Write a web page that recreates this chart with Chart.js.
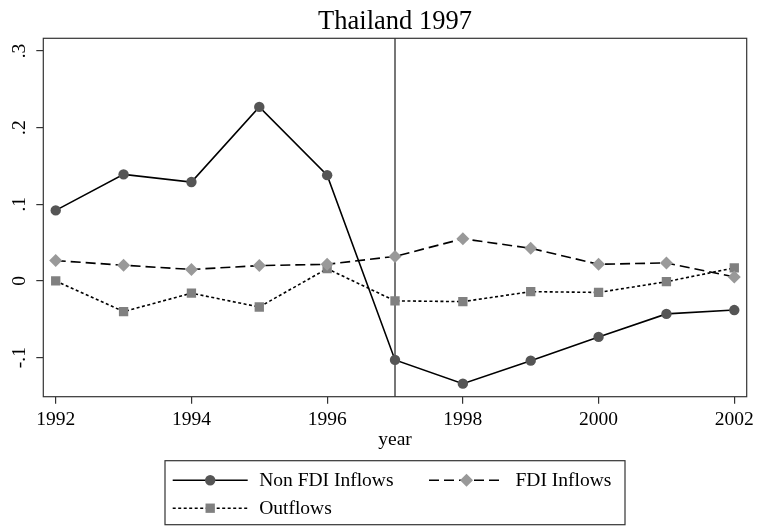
<!DOCTYPE html>
<html>
<head>
<meta charset="utf-8">
<script src="https://cdn.jsdelivr.net/npm/chart.js"></script>
<style>
  body { margin: 0; background: #fff; }
</style>
</head>
<body>
<canvas id="chart" width="759" height="526"></canvas>
<script>
// values
const years = [1992, 1993, 1994, 1995, 1996, 1997, 1998, 1999, 2000, 2001, 2002];
const nonFdiInflows = [0.092, 0.139, 0.129, 0.227, 0.138, -0.103, -0.134, -0.104, -0.073, -0.043, -0.038];
const fdiInflows = [0.0265, 0.0205, 0.015, 0.020, 0.0217, 0.032, 0.055, 0.0426, 0.0217, 0.0235, 0.0052];
const outflows = [0.000, -0.040, -0.016, -0.034, 0.016, -0.026, -0.027, -0.014, -0.015, -0.001, 0.017];
const xTicks = [1992, 1994, 1996, 1998, 2000, 2002];
const yTicks = [-0.1, 0, 0.1, 0.2, 0.3];
const crisisYear = 1997;
const titleText = "Thailand 1997";

const serif = "'Liberation Serif', 'Times New Roman', serif";

function points(values) {
  return values.map((v, i) => ({ x: years[i], y: v }));
}

function yLabel(v) {
  if (Math.abs(v) < 1e-9) return "0";
  return v.toFixed(1).replace("0.", ".");
}

// plot frame + vertical line at the crisis year
const framePlugin = {
  id: "frame",
  beforeDatasetsDraw(chart) {
    const ctx = chart.ctx;
    const a = chart.chartArea;
    const px = chart.scales.x.getPixelForValue(crisisYear);
    ctx.save();
    ctx.strokeStyle = "#555";
    ctx.lineWidth = 1.6;
    ctx.beginPath();
    ctx.moveTo(px, a.top);
    ctx.lineTo(px, a.bottom);
    ctx.stroke();
    ctx.strokeStyle = "#333";
    ctx.lineWidth = 1.2;
    ctx.strokeRect(a.left, a.top, a.right - a.left, a.bottom - a.top);
    ctx.restore();
  },
  // title centred over the plot region, not the whole canvas
  afterDraw(chart) {
    const ctx = chart.ctx;
    const a = chart.chartArea;
    ctx.save();
    ctx.fillStyle = "#000";
    ctx.font = "26.5px " + serif;
    ctx.textAlign = "center";
    ctx.textBaseline = "alphabetic";
    ctx.fillText(titleText, (a.left + a.right) / 2, 29);
    ctx.restore();
  }
};

function drawMarker(ctx, ds, x, y) {
  const r = ds.pointRadius;
  ctx.fillStyle = ds.pointBackgroundColor;
  ctx.beginPath();
  if (ds.pointStyle === "circle") {
    ctx.arc(x, y, r, 0, Math.PI * 2);
  } else if (ds.pointStyle === "rectRot") {
    ctx.moveTo(x, y - r); ctx.lineTo(x + r, y); ctx.lineTo(x, y + r); ctx.lineTo(x - r, y);
    ctx.closePath();
  } else {
    const h = r * Math.SQRT1_2;
    ctx.rect(x - h, y - h, 2 * h, 2 * h);
  }
  ctx.fill();
}

// boxed legend with line + marker samples
const legendPlugin = {
  id: "boxLegend",
  afterDraw(chart) {
    const ctx = chart.ctx;
    const a = chart.chartArea;
    const cx = (a.left + a.right) / 2;
    const boxW = 460, boxTop = 460.7, boxH = 64;
    const left = cx - boxW / 2;
    ctx.save();
    ctx.strokeStyle = "#333";
    ctx.lineWidth = 1.2;
    ctx.strokeRect(left, boxTop, boxW, boxH);

    const slots = [
      { x: left + 7.7, y: boxTop + 19.5 },
      { x: left + 264, y: boxTop + 19.5 },
      { x: left + 7.7, y: boxTop + 47.5 }
    ];
    const sampleW = 75;
    chart.data.datasets.forEach((ds, i) => {
      const s = slots[i];
      ctx.strokeStyle = ds.borderColor;
      ctx.lineWidth = ds.borderWidth;
      ctx.setLineDash(ds.borderDash || []);
      ctx.beginPath();
      ctx.moveTo(s.x, s.y);
      ctx.lineTo(s.x + sampleW, s.y);
      ctx.stroke();
      ctx.setLineDash([]);
      drawMarker(ctx, ds, s.x + sampleW / 2, s.y);
      ctx.fillStyle = "#000";
      ctx.font = "19.5px " + serif;
      ctx.textBaseline = "middle";
      ctx.textAlign = "left";
      ctx.fillText(ds.label, s.x + sampleW + 11.5, s.y + 1);
    });
    ctx.restore();
  }
};

const canvas = document.getElementById("chart");
new Chart(canvas, {
  type: "line",
  data: {
    datasets: [
      {
        label: "Non FDI Inflows",
        data: points(nonFdiInflows),
        borderColor: "#000",
        borderWidth: 1.6,
        pointStyle: "circle",
        pointRadius: 5.2,
        pointBackgroundColor: "#555",
        pointBorderWidth: 0,
        fill: false
      },
      {
        label: "FDI Inflows",
        data: points(fdiInflows),
        borderColor: "#000",
        borderWidth: 1.6,
        borderDash: [10, 5],
        pointStyle: "rectRot",
        pointRadius: 6.5,
        pointBackgroundColor: "#999",
        pointBorderWidth: 0,
        fill: false
      },
      {
        label: "Outflows",
        data: points(outflows),
        borderColor: "#000",
        borderWidth: 1.6,
        borderDash: [3, 2.5],
        pointStyle: "rect",
        pointRadius: 6.6,
        pointBackgroundColor: "#808080",
        pointBorderWidth: 0,
        fill: false
      }
    ]
  },
  options: {
    responsive: false,
    animation: false,
    layout: { padding: { left: 0, right: 12.3, top: 38.3, bottom: 74.6 } },
    plugins: {
      legend: { display: false },
      tooltip: { enabled: false },
      title: { display: false }
    },
    scales: {
      x: {
        type: "linear",
        min: 1991.817,
        max: 2002.183,
        afterBuildTicks(scale) { scale.ticks = xTicks.map(v => ({ value: v })); },
        afterFit(scale) { scale.height = 54.7; },
        border: { display: false },
        grid: { display: true, drawOnChartArea: false, drawTicks: true, tickLength: 7, color: "#333", lineWidth: 1.2 },
        ticks: {
          color: "#000",
          padding: 4,
          maxRotation: 0,
          font: { family: serif, size: 19.5 },
          callback: v => String(v)
        },
        title: {
          display: true,
          text: "year",
          color: "#000",
          padding: 0,
          font: { family: serif, size: 19.5 }
        }
      },
      y: {
        type: "linear",
        min: -0.151,
        max: 0.3165,
        afterBuildTicks(scale) { scale.ticks = yTicks.map(v => ({ value: v })); },
        afterFit(scale) { scale.width = 43.3; },
        border: { display: false },
        grid: { display: true, drawOnChartArea: false, drawTicks: true, tickLength: 7, color: "#333", lineWidth: 1.2 },
        ticks: {
          color: "#000",
          padding: 6,
          minRotation: 90,
          maxRotation: 90,
          crossAlign: "center",
          font: { family: serif, size: 19.5 },
          callback: v => yLabel(v)
        }
      }
    }
  },
  plugins: [framePlugin, legendPlugin]
});
</script>
</body>
</html>
